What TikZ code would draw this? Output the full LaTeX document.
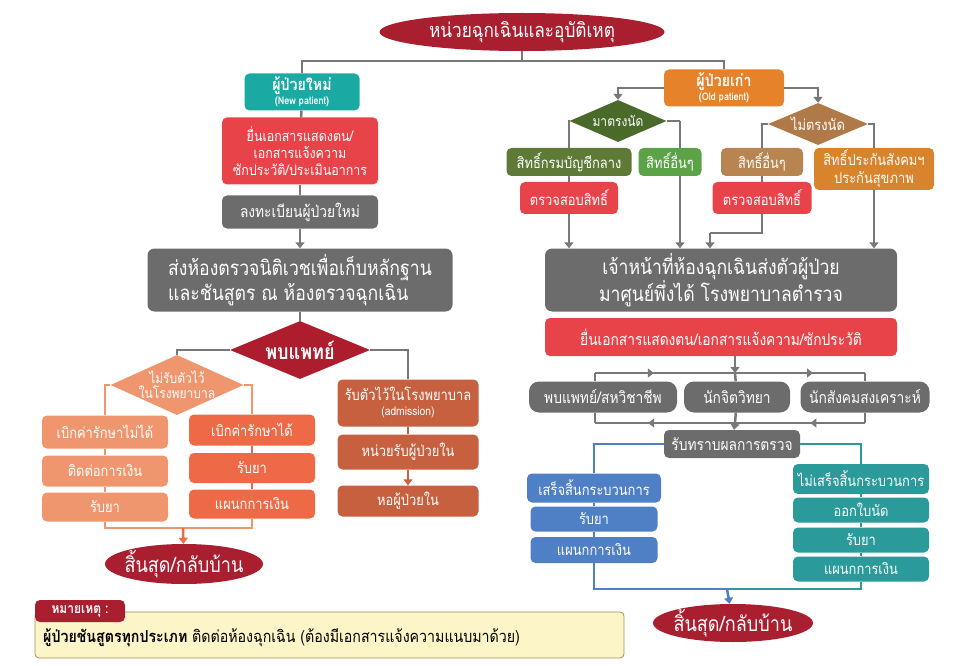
\documentclass[tikz,border=0pt]{standalone}
\usepackage{fontspec}
\setmainfont[Script=Thai,FakeStretch=0.86]{Loma}
\usetikzlibrary{shapes.geometric, arrows.meta, calc, backgrounds}

\definecolor{headred}{HTML}{A91F2F}
\definecolor{docred}{HTML}{E9434A}
\definecolor{boxgray}{HTML}{6C6C6C}
\definecolor{linegray}{HTML}{787878}
\definecolor{newteal}{HTML}{1BAAA3}
\definecolor{oldorange}{HTML}{E6822A}
\definecolor{salmon}{HTML}{F0966E}
\definecolor{coral}{HTML}{EE6A47}
\definecolor{rust}{HTML}{C6603E}
\definecolor{darkgreen}{HTML}{4A6A2A}
\definecolor{olive}{HTML}{5F7A36}
\definecolor{leafgreen}{HTML}{5BA346}
\definecolor{tan}{HTML}{B07A48}
\definecolor{lighttan}{HTML}{B8844F}
\definecolor{amber}{HTML}{D8842C}
\definecolor{doneblue}{HTML}{4F80C5}
\definecolor{seateal}{HTML}{2A9A9B}
\definecolor{noteyellow}{HTML}{FCF5C7}
\definecolor{noteline}{HTML}{A98A5E}

\tikzstyle{box} = [rectangle, rounded corners=5pt, text=white, align=center, inner sep=1pt, font=\fontsize{15}{17}\selectfont]
\tikzstyle{bigbox} = [box, rounded corners=7pt, fill=boxgray, font=\fontsize{20.5}{25}\selectfont]
\tikzstyle{pill} = [box, rounded corners=10pt, fill=boxgray, minimum height=31pt, font=\fontsize{16}{18}\selectfont]
\tikzstyle{endpt} = [ellipse, fill=headred, text=white, inner sep=-6pt, font=\fontsize{21}{24}\selectfont]
\tikzstyle{choice} = [diamond, text=white, align=center, inner sep=-1pt, shape aspect=2.4, font=\fontsize{15}{16}\selectfont]
\tikzstyle{line} = [draw=linegray, line width=2.5pt]
\tikzstyle{arrow} = [line, -{Triangle[width=9pt,length=6pt]}]

\begin{document}
\begin{tikzpicture}[x=1pt, y=-1pt]
	\useasboundingbox (0,0) rectangle (970,666);

	\node (head) [endpt, minimum width=285pt, minimum height=38pt, font=\fontsize{20}{22}\selectfont] at (522,32) {หน่วยฉุกเฉินและอุบัติเหตุ};
	\coordinate (jtop) at (522,61);

	% new patient side
	\node (newpt) [box, fill=newteal, minimum width=115pt, minimum height=37pt] at (302,92) {\fontsize{16.5}{17}\selectfont\bfseries ผู้ป่วยใหม่\\[-3pt]{\fontsize{10.5}{11}\selectfont\bfseries (New patient)}};
	\node (docnew) [box, fill=docred, minimum width=156pt, minimum height=67pt, font=\fontsize{14.5}{17}\selectfont] at (300,151) {ยื่นเอกสารแสดงตน/\\เอกสารแจ้งความ\\ซักประวัติ/ประเมินอาการ};
	\node (regnew) [box, fill=boxgray, minimum width=156pt, minimum height=33pt, font=\fontsize{16}{18}\selectfont] at (300,212) {ลงทะเบียนผู้ป่วยใหม่};
	\node (forensic) [bigbox, align=left, minimum width=305pt, minimum height=63pt] at (300,280) {ส่งห้องตรวจนิติเวชเพื่อเก็บหลักฐาน\\และชันสูตร ณ ห้องตรวจฉุกเฉิน};
	\node (seedoc) [choice, fill=headred!95!red, minimum width=140pt, minimum height=58pt, font=\fontsize{21}{22}\selectfont\bfseries] at (300,350) {พบแพทย์};

	\node (notadmit) [choice, fill=salmon, inner sep=-5pt, shape aspect=2.2, minimum width=133pt, minimum height=60pt, font=\fontsize{14}{15}\selectfont] at (177,385) {ไม่รับตัวไว้\\ในโรงพยาบาล};
	\node (nocover) [box, fill=salmon, minimum width=126pt, minimum height=33pt] at (105,432) {เบิกค่ารักษาไม่ได้};
	\node (contactfin) [box, fill=salmon, minimum width=126pt, minimum height=31pt] at (105,471) {ติดต่อการเงิน};
	\node (meds1) [box, fill=salmon, minimum width=126pt, minimum height=29pt] at (105,507) {รับยา};
	\node (cover) [box, fill=coral, minimum width=126pt, minimum height=31pt] at (252,430) {เบิกค่ารักษาได้};
	\node (meds2) [box, fill=coral, minimum width=126pt, minimum height=30pt] at (252,468) {รับยา};
	\node (fin2) [box, fill=coral, minimum width=126pt, minimum height=29pt] at (252,504) {แผนกการเงิน};
	\coordinate (jleft) at (183,528);
	\node (endl) [endpt, minimum width=158pt, minimum height=40pt] at (184,564) {สิ้นสุด/กลับบ้าน};

	\node (admit) [box, fill=rust, minimum width=141pt, minimum height=47pt] at (408,403) {รับตัวไว้ในโรงพยาบาล\\[-2pt]{\fontsize{12}{13}\selectfont (admission)}};
	\node (inward) [box, fill=rust, minimum width=141pt, minimum height=35pt] at (408,452) {หน่วยรับผู้ป่วยใน};
	\node (ward) [box, fill=rust, minimum width=141pt, minimum height=31pt] at (408,501) {หอผู้ป่วยใน};

	% old patient side
	\node (oldpt) [box, fill=oldorange, minimum width=120pt, minimum height=37pt] at (724,88) {\fontsize{16.5}{17}\selectfont\bfseries ผู้ป่วยเก่า\\[-3pt]{\fontsize{10.5}{11}\selectfont\bfseries (Old patient)}};
	\node (ontime) [choice, fill=darkgreen, minimum width=97pt, minimum height=42pt, font=\fontsize{14}{15}\selectfont] at (618,121) {มาตรงนัด};
	\node (offtime) [choice, fill=tan, minimum width=100pt, minimum height=42pt] at (818,124) {ไม่ตรงนัด};
	\node (cgd) [box, fill=olive, minimum width=125pt, minimum height=28pt] at (569,162) {สิทธิ์กรมบัญชีกลาง};
	\node (other1) [box, fill=leafgreen, minimum width=63pt, minimum height=28pt] at (670,162) {สิทธิ์อื่นๆ};
	\node (check1) [box, fill=docred, minimum width=98pt, minimum height=32pt] at (569,198) {ตรวจสอบสิทธิ์};
	\node (other2) [box, fill=lighttan, minimum width=82pt, minimum height=28pt] at (762,162) {สิทธิ์อื่นๆ};
	\node (check2) [box, fill=docred, minimum width=99pt, minimum height=32pt] at (762,198) {ตรวจสอบสิทธิ์};
	\node (sso) [box, fill=amber, minimum width=120pt, minimum height=42pt, font=\fontsize{15}{18}\selectfont] at (874,169) {สิทธิ์ประกันสังคมฯ\\ประกันสุขภาพ};
	\coordinate (o1top) at (680,121);
	\coordinate (jc2) at (710,233);

	\node (staff) [bigbox, minimum width=352pt, minimum height=63pt] at (721,280) {เจ้าหน้าที่ห้องฉุกเฉินส่งตัวผู้ป่วย\\มาศูนย์พึ่งได้ โรงพยาบาลตำรวจ};
	\node (docold) [box, fill=docred, minimum width=352pt, minimum height=38pt, font=\fontsize{16}{18}\selectfont] at (721,337) {ยื่นเอกสารแสดงตน/เอกสารแจ้งความ/ซักประวัติ};

	\coordinate (jsplit) at (735,373);
	\coordinate (ul) at (595,373);
	\coordinate (ur) at (865,373);
	\node (doc2) [pill, minimum width=148pt] at (603,397) {พบแพทย์/สหวิชาชีพ};
	\node (psych) [pill, minimum width=106pt] at (737,397) {นักจิตวิทยา};
	\node (social) [pill, minimum width=129pt] at (865,397) {นักสังคมสงเคราะห์};
	\coordinate (jmerge) at (735,423);
	\coordinate (ll) at (595,423);
	\coordinate (lr) at (865,423);
	\node (result) [box, fill=boxgray, minimum width=136pt, minimum height=28pt, font=\fontsize{16}{18}\selectfont] at (732,444) {รับทราบผลการตรวจ};

	\node (done) [box, fill=doneblue, minimum width=134pt, minimum height=29pt] at (594,488) {เสร็จสิ้นกระบวนการ};
	\node (meds3) [box, fill=doneblue, minimum width=127pt, minimum height=25pt] at (594,519) {รับยา};
	\node (fin3) [box, fill=doneblue, minimum width=127pt, minimum height=26pt] at (594,550) {แผนกการเงิน};
	\node (notdone) [box, fill=seateal, minimum width=136pt, minimum height=30pt] at (861,479) {ไม่เสร็จสิ้นกระบวนการ};
	\node (appt) [box, fill=seateal, minimum width=136pt, minimum height=25pt] at (861,510) {ออกใบนัด};
	\node (meds4) [box, fill=seateal, minimum width=136pt, minimum height=25pt] at (861,540) {รับยา};
	\node (fin4) [box, fill=seateal, minimum width=136pt, minimum height=25pt] at (861,569) {แผนกการเงิน};
	\coordinate (jright) at (727,589);
	\node (endr) [endpt, minimum width=160pt, minimum height=38pt] at (733,623) {สิ้นสุด/กลับบ้าน};

	% note
	\node (notebox) [rectangle, rounded corners=4pt, fill=noteyellow, draw=noteline, line width=0.8pt, minimum width=589pt, minimum height=46pt] at (329.5,635) {};
	\node (notetab) [rectangle, rounded corners=5pt, fill=headred, text=white, minimum width=90pt, minimum height=22pt, font=\fontsize{14}{15}\selectfont\bfseries] at (80,611) {หมายเหตุ :};
	\node (notetext) [anchor=west, inner sep=0pt, font=\fontsize{16.5}{18}\selectfont] at (43,638) {\textbf{ผู้ป่วยชันสูตรทุกประเภท} ติดต่อห้องฉุกเฉิน (ต้องมีเอกสารแจ้งความแนบมาด้วย)};

	\begin{scope}[on background layer]
	\draw [line] (head) -- (jtop);
	\draw [line] (jtop) -| (newpt);
	\draw [line] (jtop) -| (oldpt);

	\draw [line] (newpt) -- (docnew);
	\draw [line] (docnew) -- (regnew);
	\draw [arrow] (regnew) -- (forensic);
	\draw [line] (forensic) -- (seedoc);
	\draw [line] (seedoc.west) -| (notadmit.north);
	\draw [line] (seedoc.east) -| (admit.north);

	\draw [line, draw=salmon] (notadmit.west) -| (nocover.north);
	\draw [line, draw=salmon] (notadmit.east) -| (cover.north);
	\draw [line, draw=salmon] (nocover) -- (contactfin);
	\draw [line, draw=salmon] (contactfin) -- (meds1);
	\draw [line, draw=coral] (cover) -- (meds2);
	\draw [line, draw=coral] (meds2) -- (fin2);
	\draw [line, draw=salmon] (meds1) |- (jleft) -| (fin2);
	\draw [arrow, draw=coral, fill=coral] (jleft) -- (endl);

	\draw [line, draw=rust] (admit) -- (inward);
	\draw [arrow, draw=rust, fill=rust] (inward) -- (ward);

	\draw [arrow] (oldpt.west) -| (ontime.north);
	\draw [arrow] (oldpt.east) -| (offtime.north);
	\draw [line] (ontime.west) -| (cgd.north);
	\draw [line] (ontime.east) -- (o1top);
	\draw [arrow] (o1top) -- (o1top |- staff.north);
	\draw [line] (cgd) -- (check1);
	\draw [arrow] (check1) -- (check1 |- staff.north);
	\draw [line] (offtime.west) -| (other2.north);
	\draw [line] (other2) -- (check2);
	\draw [line] (check2) |- (jc2);
	\draw [arrow] (jc2) -- (jc2 |- staff.north);
	\draw [line] (offtime.east) -| (sso.north);
	\draw [arrow] (sso) -- (sso |- staff.north);

	\draw [arrow] (docold.south -| jsplit) -- (jsplit);
	\draw [line] (ul) -- (ur);
	\draw [arrow] (ul) -- ($(ul)!0.42!(jsplit)$);
	\draw [arrow] (jsplit) -- ($(jsplit)!0.6!(ur)$);
	\draw [line] (ul) -- (ul |- doc2.north);
	\draw [line] (jsplit) -- (psych);
	\draw [line] (ur) -- (social);
	\draw [line] (doc2.south -| ll) -- (ll);
	\draw [line] (psych) -- (jmerge);
	\draw [line] (social) -- (lr);
	\draw [line] (ll) -- (lr);
	\draw [arrow] (jmerge) -- ($(jmerge)!0.62!(ll)$);
	\draw [arrow] (lr) -- ($(lr)!0.42!(jmerge)$);
	\draw [arrow] (jmerge) -- (result);

	\draw [line, draw=doneblue] (result.west) -| (done.north);
	\draw [line, draw=seateal] (result.east) -| (notdone.north);
	\draw [line, draw=doneblue] (done) -- (meds3);
	\draw [line, draw=doneblue] (meds3) -- (fin3);
	\draw [line, draw=seateal] (notdone) -- (appt);
	\draw [line, draw=seateal] (appt) -- (meds4);
	\draw [line, draw=seateal] (meds4) -- (fin4);
	\draw [line, draw=doneblue] (fin3) |- (jright);
	\draw [line, draw=seateal] (fin4) |- (jright);
	\draw [arrow, draw=doneblue, fill=doneblue] (jright) -- (endr);
	\end{scope}
\end{tikzpicture}
\end{document}
